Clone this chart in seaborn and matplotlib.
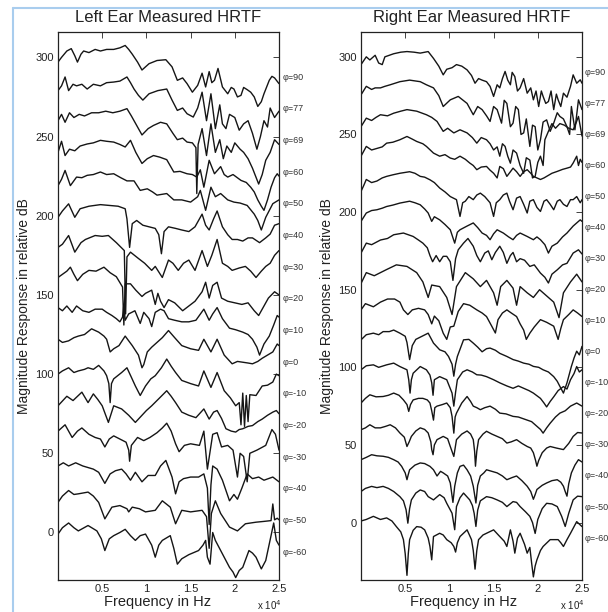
import numpy as np
import pandas as pd
import matplotlib
matplotlib.use("Agg")
import matplotlib.pyplot as plt
from matplotlib.lines import Line2D
import seaborn as sns

# ── Dados: elevações, deslocamentos e curvas (kHz, dB relativo) ──────────────
elevations = [90, 77, 69, 60, 50, 40, 30, 20, 10, 0, -10, -20, -30, -40, -50, -60]
offsets = [300, 280, 260, 240, 220, 200, 180, 160, 140, 120, 100, 80, 60, 40, 20, 0]

# Orelha esquerda
left_90 = [(0.0,-3),(0.4,0),(1.0,4),(1.5,5.5),(1.9,1),(2.2,-3),(2.6,2),(2.9,4),(3.5,3),(4.2,5),(4.8,4),(5.5,5),(6.3,5),(7.0,6),(7.6,7.5),(8.0,5),(8.4,2),(9.0,-3),(9.5,-8),(10.3,-4),(11.2,-2),(12.2,-1.5),(12.9,-6),(13.5,-14.5),(14.1,-13),(14.6,-16.6),(15.2,-22),(15.8,-17.7),(16.3,-10),(16.7,-18.7),(17.1,-9),(17.4,-16),(17.7,-14.5),(18.1,-7),(18.6,-18.7),(19.2,-23),(19.6,-19),(19.9,-20),(20.3,-25),(20.7,-24),(21.0,-19),(21.4,-20.4),(21.8,-22),(22.2,-25),(22.6,-31),(23.0,-28),(23.3,-23),(23.9,-14.5),(24.2,-12),(24.5,-13),(25.0,-16.6)]
left_77 = [(0.0,-1),(0.4,2),(0.8,7.6),(1.2,-1),(1.7,3),(2.1,2),(2.7,3),(3.3,0),(4.0,3),(4.8,2),(5.5,4),(6.3,4.4),(7.0,5),(7.8,7.6),(8.2,4),(8.6,0),(9.1,-4),(9.6,-7),(10.3,-3),(11.3,-1),(12.3,0),(12.9,-7),(13.5,-13.5),(14.1,-12),(14.6,-15.6),(15.3,-17.7),(15.8,-12),(16.3,-2),(16.8,-20),(17.3,-3),(17.8,-25),(18.3,-10),(18.6,-22),(19.0,-25),(19.4,-16),(20.0,-18),(20.5,-26),(21.0,-22),(21.5,-20),(22.0,-28),(22.5,-38),(22.9,-30),(23.3,-20),(23.7,-24),(24.0,-12),(24.5,-18),(25.0,-14)]
left_69 = [(0.0,0),(0.4,4),(0.8,-1),(1.3,5),(1.8,2),(2.4,4),(3.0,3),(3.8,5),(4.6,5),(5.4,6),(6.2,5),(7.0,6),(7.8,7.6),(8.3,3),(8.8,-2),(9.5,-9),(10.2,-5),(10.8,-3),(11.6,-1),(12.3,-2),(13.0,-8),(13.5,-12),(14.1,-11),(14.6,-13.5),(15.2,-14),(15.6,-17),(15.7,-46),(15.85,-15),(16.3,-5),(16.8,-22),(17.3,-2),(17.8,-20),(18.3,-12),(18.7,-24),(19.1,-16),(19.6,-20),(20.0,-14),(20.6,-18),(21.0,-20),(21.5,-24),(22.0,-30),(22.7,-40),(23.1,-34),(23.5,-25),(24.0,-20),(24.5,-12),(25.0,-15)]
left_60 = [(0.0,0),(0.4,7),(0.8,-2),(1.3,2),(1.9,1),(2.5,4),(3.3,5.3),(4.0,6),(4.8,7.6),(5.5,7),(6.3,6.5),(7.0,5),(7.6,3.4),(8.2,7.6),(8.8,0),(9.5,-7),(10.1,-4),(10.8,-2),(11.5,-3),(12.3,-4.6),(13.1,-12.4),(13.8,-12),(14.6,-13.5),(15.2,-14),(15.7,-15.6),(16.1,-11),(16.5,-22),(17.1,-5),(17.7,-13.5),(18.4,-9),(18.8,-14),(19.2,-15.6),(19.8,-14),(20.7,-17.7),(21.3,-19),(21.8,-22),(22.2,-25),(22.6,-30),(23.0,-34),(23.3,-36.6),(23.7,-30),(24.1,-22),(24.5,-16),(24.8,-13.5),(25.0,-15)]
left_50 = [(0.0,-1),(0.4,3),(0.8,8.6),(1.4,-1),(2.1,4.4),(2.7,4),(3.3,5.5),(4.0,6),(4.8,7.6),(5.5,6),(6.3,6.5),(7.1,4),(7.8,2),(8.6,2),(9.3,-4),(10.1,-3),(10.7,-5),(11.2,-7),(12.3,-6),(13.1,-10),(14.0,-10),(15.0,-11.4),(15.8,-8),(16.1,-4),(16.7,-16.6),(17.3,-2),(17.8,-8),(18.4,-6),(19.2,-10),(19.9,-11.4),(20.6,-12),(21.4,-13.5),(22.2,-19),(22.6,-23),(23.0,-29),(23.5,-21),(24.3,-12.4),(25.0,-10)]
left_40 = [(0.0,-1),(0.5,3),(1.2,7.5),(1.9,-1),(2.5,4.4),(3.5,6),(4.8,7),(5.8,6.5),(6.8,6),(7.6,4.4),(7.8,-2),(8.1,-20),(8.4,-5),(8.9,-3),(9.6,-6),(10.3,-7),(11.0,-8),(11.4,-12),(11.7,-24),(12.0,-10),(12.5,-7),(13.3,-8),(14.0,-9),(14.8,-10),(15.5,-7),(16.3,1),(16.7,-6),(17.1,-9),(17.6,-2),(18.0,3),(18.6,-7),(19.2,-12),(19.7,-15),(20.3,-15),(20.9,-16),(21.5,-14),(22.0,-14),(22.8,-17),(23.5,-14),(24.0,-11.6),(24.5,-6),(25.0,-5)]
left_30 = [(0.0,0),(0.5,2),(1.2,7.5),(1.9,-3),(2.6,3),(3.1,5),(4.2,7.5),(5.0,7),(5.7,7.5),(6.6,3),(7.5,-2),(7.65,-42),(7.8,-6),(8.2,-3),(9.1,-7),(9.8,-10),(10.6,-14.5),(11.0,-12),(11.8,-19),(12.5,-8),(13.0,-10),(13.6,-14.5),(14.2,-10),(14.8,-8),(15.5,-14.5),(16.3,-2),(16.9,-12),(17.4,-5),(18.0,5),(18.6,-10),(19.2,-12),(19.7,-14.5),(20.5,-13),(21.2,-12),(21.8,-15),(22.4,-19),(23.0,-15),(23.5,-12),(24.0,-10),(24.5,-5),(25.0,-2)]
left_20 = [(0.0,1),(0.5,3),(1.0,5),(1.4,7.5),(1.8,3),(2.2,-1),(2.8,3),(3.5,5.5),(4.3,5),(5.2,7.5),(5.9,4),(6.6,1.5),(7.3,-5),(7.45,-29),(7.6,-3),(8.2,-3),(8.8,-7),(9.5,-11),(9.9,-9),(10.6,-7),(11.0,-16),(11.3,-9),(11.6,-14),(12.0,-18),(12.5,-13),(13.2,-15),(14.1,-20),(14.8,-17),(15.5,-14),(16.3,-8),(16.7,-2),(17.1,-12),(17.5,-4),(18.0,-2),(18.5,-12),(19.2,-14),(20.0,-15),(20.8,-16),(21.5,-15),(22.2,-20),(22.7,-23),(23.2,-18),(23.8,-12),(24.5,-8),(25.0,-10)]
left_10 = [(0.0,2),(0.5,0),(1.0,3),(1.6,-1),(2.1,3),(2.8,0),(3.5,-1),(4.2,1),(5.0,1),(5.5,-1),(6.1,-3),(6.6,-5),(7.0,-7),(7.3,-4),(7.45,4),(7.6,-6),(8.0,-2),(8.7,0),(9.3,-8),(9.7,-1),(10.3,-5),(10.6,-10),(11.0,-1),(11.6,1),(12.0,0),(12.5,-5),(13.2,-6),(14.0,-7),(14.8,-7),(15.6,-6),(16.5,1),(17.1,-6),(17.5,-2),(18.0,2),(18.6,-5),(19.4,-11),(20.1,-12),(20.9,-13.5),(21.5,-15),(22.0,-18),(22.5,-23),(22.8,-28),(23.3,-21),(23.9,-16),(24.4,-9),(24.8,-3),(25.0,-4)]
left_0 = [(0.0,2),(0.5,0),(1.2,1),(1.8,3),(2.3,4),(3.0,5),(3.8,8.6),(4.6,6.5),(5.2,4),(5.5,2),(5.9,-6),(6.3,-4),(6.9,-2),(7.6,4),(8.0,1),(8.4,-2),(9.1,-8),(9.5,-16),(9.7,-14),(10.1,-6),(10.6,-3),(11.0,-1),(11.8,3),(12.5,7.5),(13.2,3),(14.0,-2),(15.0,-4),(15.9,-5),(16.5,2),(17.3,-6),(18.0,2),(18.8,-8),(19.7,-13.5),(20.3,-12),(20.9,-12.5),(21.5,-13),(22.0,-13.5),(22.6,-12),(23.1,-10),(23.7,-8),(24.3,-6),(24.8,-1),(25.0,-2)]
left_m10 = [(0.0,0),(0.5,2),(1.2,4),(1.8,1),(2.3,2),(3.0,3),(3.4,4),(4.0,3),(4.6,5.5),(5.2,2),(5.5,-1),(5.75,-6),(5.9,-18),(6.05,-6),(6.3,-3),(7.2,1),(7.8,4),(8.3,-2),(8.75,-7.5),(9.3,-13.5),(9.9,-7.5),(10.5,-3),(11.0,-1),(11.7,4),(12.3,9.5),(12.8,5),(13.3,1),(14.0,-4),(15.0,-6),(15.9,-7.5),(16.5,2),(17.3,-8.4),(18.0,1),(18.8,-10.5),(19.5,-15),(20.1,-20),(20.5,-18),(20.7,-32),(20.9,-12),(21.1,-33),(21.3,-13.5),(21.5,-30),(21.7,-13),(22.4,-13.5),(23.1,-7.5),(23.7,-7),(24.3,-5),(24.7,0),(25.0,-1)]
left_m20 = [(0.0,0),(0.5,3),(1.0,6),(1.7,3.3),(2.7,8.6),(3.4,2),(4.0,7.5),(4.5,4),(5.0,0),(5.7,-10.5),(6.3,0),(7.2,-2),(8.0,-6),(8.75,-10.5),(9.5,-6),(10.0,-3),(10.6,0),(11.5,5),(12.3,9.5),(12.8,6),(13.3,2),(14.0,-4),(14.8,-6),(15.6,-7.5),(16.5,-2),(17.1,-8.4),(17.6,-4),(18.0,-3),(18.5,-8),(19.0,-14.5),(19.6,-16),(20.1,-16.6),(20.5,-15),(20.9,-14.5),(21.5,-13),(22.0,-12.5),(22.6,-10),(23.1,-8.4),(23.7,-6),(24.3,-4),(24.7,-3),(25.0,-5)]
left_m30 = [(0.0,4),(0.4,6),(0.8,8),(1.6,0),(2.2,4),(2.7,6),(3.5,2),(4.2,0),(4.8,-1),(5.3,-6),(5.8,-1),(6.3,1),(7.0,-1),(7.7,-3),(8.0,-8),(8.1,-15),(8.3,-5),(9.0,0),(9.7,-2),(10.4,0),(11.2,3),(11.8,6),(12.3,9),(12.8,4),(13.3,-4),(13.7,-9),(14.3,-5),(15.0,-4),(16.0,-5),(16.5,4),(16.9,-20),(17.5,2),(18.0,3),(18.5,-6),(19.2,-5),(19.8,-8),(20.3,-25),(20.6,-10),(21.0,-12),(21.4,-28),(21.7,-10),(22.5,-8),(23.5,-5),(24.2,5),(24.6,2),(25.0,-8)]
left_m40 = [(0.0,2),(0.6,4),(1.2,2),(2.0,4),(2.8,2),(3.4,1),(4.0,0),(4.6,-2),(5.3,-9),(5.9,-3),(6.5,-1),(7.2,0),(7.7,-3),(8.2,-7),(8.75,-2),(9.5,-8),(10.2,-4),(11.0,-4),(11.6,2),(12.2,5.5),(12.9,-5),(13.3,-15.6),(13.7,-8),(14.2,-6),(15.0,-5),(15.9,-5),(16.5,-3),(16.9,-12),(17.1,-35),(17.3,-10),(17.5,2),(18.0,0),(18.6,-7),(19.4,-20),(19.9,-16),(20.3,-19),(20.8,-12),(21.4,-3),(22.0,-6),(22.7,-5),(23.3,-7),(24.3,-5),(25.0,-8)]
left_m50 = [(0.0,-1),(0.5,3),(1.2,6.5),(1.8,4),(2.3,4.4),(3.4,5.5),(4.0,3),(4.6,-1),(5.3,-11.4),(6.1,-4),(7.0,-3),(7.8,-5),(8.0,-7),(8.4,-4),(9.2,-5),(9.9,-7),(11.0,-6),(11.8,0),(12.7,-4),(13.3,-14.5),(14.0,-6),(15.0,-7),(16.3,-6),(16.8,-10),(17.1,-30),(17.35,-8),(17.8,0),(18.4,-8),(19.4,-16.6),(20.3,-19),(21.2,-14.5),(22.4,-13.5),(23.3,-13),(24.1,-12.5),(24.3,-2),(24.5,-12),(24.8,-11),(25.0,-12)]
left_m60 = [(0.0,-1),(0.5,3),(1.2,6),(1.8,3),(2.3,1),(3.4,4.4),(4.4,1),(4.9,-4),(5.3,-11.4),(5.8,-4),(6.3,-2),(7.0,0),(7.6,2),(8.2,-2),(8.75,-5),(9.3,-2),(9.9,-1),(10.6,-8),(11.0,-15.6),(11.4,-8),(11.8,-5),(12.7,-2),(13.1,-10),(13.5,-20),(14.0,-16.6),(14.8,-14),(15.9,-11.4),(16.4,-8),(16.7,-5),(16.9,-15.6),(17.2,-20),(17.5,0),(17.8,-5),(18.6,-13.5),(19.4,-22),(19.8,-25),(20.1,-28.5),(20.5,-24),(20.9,-22),(21.6,-11.4),(22.0,-13),(22.4,-15.6),(23.0,-23),(23.5,-17.7),(24.1,-2),(24.4,6),(24.7,-5),(25.0,-8)]

# Orelha direita
right_90 = [(0.0,-5),(0.6,0),(1.0,-2),(1.6,1),(2.0,-4),(2.4,-5),(2.7,0),(3.7,2),(4.5,3),(5.2,3.4),(6.0,3),(6.7,2.4),(7.6,3.4),(8.2,-1),(8.8,-6),(9.3,-11.6),(9.7,-8),(10.3,-7),(10.8,-5),(11.4,-6),(12.0,-8.4),(12.5,-12),(12.9,-17),(13.3,-14),(13.7,-15),(14.2,-16),(14.6,-19),(15.0,-25.5),(15.4,-18),(15.7,-20),(16.0,-14),(16.3,-9.4),(16.6,-15),(16.9,-18),(17.1,-10),(17.4,-12.7),(17.7,-22),(18.0,-20),(18.4,-14),(18.8,-23.4),(19.2,-20),(19.5,-27.7),(19.8,-22),(20.1,-32),(20.4,-22),(20.6,-25.5),(20.9,-30),(21.2,-28.8),(21.5,-22),(21.8,-34),(22.1,-24),(22.3,-27.7),(22.6,-32),(22.9,-23.4),(23.3,-26),(23.7,-19),(24.0,-11.6),(24.4,-17),(24.8,-14.8),(25.0,-17)]
right_77 = [(0.0,-4.5),(0.6,1),(1.2,-1),(1.6,0),(2.2,0),(2.7,1),(3.3,2),(4.4,4),(5.5,5),(6.7,4),(7.4,2),(8.2,0),(8.8,-5),(9.3,-12),(10.1,-7.7),(11.0,-5.5),(12.0,-10),(12.7,-17.3),(13.2,-12),(13.7,-14),(14.2,-18),(14.6,-21.6),(15.0,-12),(15.4,-14),(15.9,-22.7),(16.2,-8),(16.5,-10),(16.9,-25),(17.2,-22.7),(17.5,-12),(17.8,-14),(18.1,-30),(18.4,-29),(18.7,-20),(19.1,-37.7),(19.4,-24),(19.7,-25),(20.0,-40),(20.3,-33.4),(20.6,-22),(21.0,-20.6),(21.4,-28),(21.8,-22.7),(22.2,-16),(22.5,-18.4),(22.9,-20),(23.3,-25),(23.6,-30),(23.8,-12),(24.2,-27),(24.6,-7.7),(25.0,-14)]
right_69 = [(0.0,-5),(0.6,0.5),(1.2,-1),(1.7,1),(2.2,2.7),(3.0,2),(3.7,3.7),(4.5,5),(5.2,6),(6.3,5),(7.4,2.7),(8.0,1),(8.6,-1.6),(9.3,-8),(9.8,-6),(10.5,-9),(11.2,-7),(12.0,-9),(12.6,-12),(13.1,-15.6),(13.6,-12),(14.2,-13.4),(14.6,-16),(15.0,-20),(15.4,-18),(15.7,-24),(16.0,-16),(16.3,-17.7),(16.6,-24),(16.9,-28.5),(17.2,-20),(17.6,-22),(18.0,-30),(18.4,-35),(18.7,-25),(19.1,-26.5),(19.4,-38),(19.7,-37),(20.0,-28),(20.3,-24),(20.6,-30),(20.8,-13.4),(21.2,-8),(21.6,-3),(22.0,-6),(22.5,-3),(23.0,-4),(23.5,-6),(24.0,-7),(24.3,-3),(24.6,1.6),(25.0,-11)]
right_60 = [(0.0,-4),(0.6,2.3),(1.2,0),(1.8,1),(2.4,2),(2.9,4.4),(3.6,5),(4.4,6.6),(5.2,8.7),(5.8,7),(6.3,5.5),(7.0,4),(7.4,2.3),(8.2,-2),(8.9,-4),(9.5,-3),(10.1,-5.2),(10.6,-6),(11.2,-4),(11.8,-6),(12.3,-8.4),(12.7,-10),(13.1,-12.7),(13.6,-11),(14.2,-10.6),(14.6,-13),(15.0,-15),(15.4,-18),(15.7,-10.6),(16.1,-12),(16.5,-17),(16.9,-14),(17.2,-11.7),(17.6,-14),(18.0,-17),(18.4,-14),(18.8,-12.7),(19.2,-15),(19.5,-17),(19.9,-18),(20.3,-19),(20.7,-18),(21.0,-17),(21.6,-15),(22.2,-13.8),(22.8,-12.5),(23.3,-11.7),(23.7,-11),(24.0,-8.4),(24.4,-4),(24.6,-10),(24.8,-6),(25.0,-8)]
right_50 = [(0.0,-6.7),(0.3,-3),(0.6,1),(1.2,-1),(1.8,0),(2.4,2),(2.9,3),(3.6,4),(4.4,5),(5.5,6),(6.1,5),(6.7,3),(7.2,2.5),(7.8,0.8),(8.3,-1),(8.9,-4.5),(9.5,-7),(10.1,-10),(10.8,-12),(11.2,-22.8),(11.5,-14),(11.8,-13),(12.2,-10),(12.7,-12),(13.1,-9),(13.5,-7.8),(14.0,-10),(14.6,-14),(15.0,-22.8),(15.3,-14),(15.7,-12),(16.1,-9),(16.5,-7.8),(16.8,-13),(17.2,-18.5),(17.6,-11),(18.0,-10),(18.4,-15),(18.8,-20.6),(19.1,-13),(19.5,-12),(19.9,-17),(20.3,-19.6),(20.7,-13),(21.0,-12),(21.4,-15),(21.8,-18.5),(22.2,-13),(22.5,-12),(22.9,-15),(23.3,-16.4),(23.7,-12),(24.0,-12),(24.4,-10),(24.8,-14),(25.0,-12)]
right_40 = [(0.0,-6),(0.6,-0.6),(1.2,1),(1.8,1.5),(2.4,2.5),(2.9,3.6),(3.6,4.5),(4.4,5.8),(5.5,7),(6.1,6),(6.7,4.7),(7.2,2),(7.6,-0.6),(8.0,-6),(8.3,-3),(8.9,-5),(9.5,-8),(10.1,-11.4),(10.6,-20),(10.9,-13),(11.2,-11.4),(12.0,-9),(12.7,-7),(13.2,-10),(13.7,-13.5),(14.2,-15),(14.6,-17.8),(15.0,-14),(15.4,-11.4),(16.1,-13.5),(16.7,-16),(17.2,-17.8),(17.6,-15),(18.0,-13.5),(18.8,-15.7),(19.5,-17.8),(19.9,-16),(20.3,-17.8),(20.8,-21),(21.2,-26.4),(21.6,-22),(22.2,-20),(22.8,-16),(23.3,-13.5),(24.0,-9),(24.4,-7),(24.8,-5),(25.0,-6)]
right_30 = [(0.0,-6.4),(0.6,0),(1.2,-1),(2.2,2),(3.0,3),(3.7,5.4),(4.8,6.5),(5.9,4.3),(6.5,2),(7.0,0),(7.5,-3),(7.8,-8),(8.1,-12),(8.5,-8),(8.9,-12),(9.3,-8.5),(9.7,-8.5),(10.1,-12),(10.4,-24),(10.7,-10),(11.0,-4.3),(11.6,0),(12.1,3),(12.7,-2),(13.1,-8),(13.5,-12),(14.0,-6.4),(14.4,-5),(14.8,-10.7),(15.2,-6),(15.7,-2),(16.1,-6),(16.5,-13),(16.9,-8),(17.2,-6),(17.6,-12),(18.0,-10),(18.5,-11),(19.1,-15),(19.6,-14),(20.3,-19.3),(20.8,-22),(21.2,-25.7),(21.6,-20),(22.2,-17.2),(22.8,-14),(23.3,-13),(24.0,-6.4),(24.6,-4.3),(25.0,-7)]
right_20 = [(0.0,-6),(0.6,1),(1.5,-1),(2.9,3),(4.0,6),(5.2,5),(6.3,1),(7.0,-5),(7.6,-15),(8.0,-7),(8.9,-8),(9.7,-15),(10.3,-26),(10.8,-8),(11.8,1),(12.7,-3),(13.5,-8),(14.2,-4),(15.0,-12),(15.4,-20),(15.8,-8),(16.5,-4),(17.2,-9),(17.6,-20),(18.0,-8),(18.8,-12),(19.5,-15),(20.2,-10),(21.0,-14),(21.8,-18),(22.4,-28),(22.9,-12),(23.7,-5),(24.4,0),(25.0,-5)]
right_10 = [(0.0,-3),(0.5,1),(1.4,-1),(2.2,2),(3.0,4),(3.8,4),(4.4,2),(4.8,-3),(5.3,-6),(5.8,-3),(6.5,-2),(7.2,-3),(7.6,-6),(8.0,-12),(8.3,-7),(8.8,-10),(9.3,-18),(9.7,-22),(10.1,-14),(10.5,-13.5),(11.0,-4),(11.6,1),(12.3,0),(13.1,-3),(13.7,-5),(14.2,-7.3),(14.8,-13.6),(15.2,-17.9),(15.5,-9.3),(16.0,-5),(16.5,-3),(17.0,-5),(17.6,-7.3),(18.0,-12),(18.4,-16),(18.7,-22),(19.1,-18),(19.6,-14),(20.3,-9.3),(21.0,-11),(21.8,-13.5),(22.3,-22),(22.6,-15),(22.9,-9.3),(23.5,-6),(24.0,-3),(24.5,-5),(25.0,-7.3)]
right_0 = [(0.0,-2.3),(0.6,1),(1.4,2),(2.0,1),(2.5,3),(3.2,3),(3.7,4),(4.4,2),(5.0,0),(5.2,-4),(5.5,-15),(5.8,-6),(6.2,-2),(6.9,0),(7.6,2),(8.2,-4.4),(8.9,-8.7),(9.5,-10),(9.9,-13),(10.3,-18),(10.5,-25.7),(10.7,-18),(10.9,-13),(11.6,-2.3),(12.2,-2),(12.7,-4.4),(13.2,-7),(13.7,-10),(14.2,-8),(14.6,-7.6),(15.2,-9),(15.7,-11),(16.5,-13),(17.2,-15),(17.8,-16),(18.4,-17.3),(19.0,-18),(19.5,-19.4),(20.1,-20),(20.6,-21.6),(21.2,-23),(21.8,-26),(22.2,-29),(22.5,-32.3),(22.9,-36.6),(23.3,-30),(23.8,-19.4),(24.1,-14),(24.4,-9.6),(24.7,-12),(25.0,-6.5)]
right_m10 = [(0.0,-1.6),(0.6,1),(1.4,1.6),(2.0,0),(2.9,1.6),(3.7,2.7),(4.4,0.5),(5.2,-1.6),(5.4,-8),(5.55,-16.6),(5.7,-8),(5.9,-3.8),(6.7,0.5),(7.4,-1.6),(7.8,-5),(8.0,-10),(8.15,-18),(8.3,-8),(8.9,-6),(9.7,-8),(10.3,-16.6),(10.5,-25),(10.7,-16),(10.9,-8),(11.5,-3),(12.0,-1.6),(12.6,-3),(13.1,-4.8),(13.6,-5),(14.2,-6),(15.0,-8),(15.7,-10),(16.5,-12),(17.2,-13.5),(17.8,-12),(18.4,-13.5),(19.0,-15),(19.5,-16.6),(20.3,-20),(20.7,-23),(21.0,-25.5),(21.4,-22),(21.8,-19),(22.3,-15),(22.9,-12.4),(23.3,-14),(23.7,-8),(24.1,-4),(24.4,0.5),(24.7,-3),(25.0,-1.6)]
right_m20 = [(0.0,-3),(0.5,0),(1.0,2.3),(1.7,1),(2.5,1.2),(3.1,2),(3.7,3.4),(4.3,2),(4.8,-1),(5.2,-4),(5.4,-8.4),(5.6,-4),(5.9,-1),(6.5,0),(7.0,0),(7.5,-1),(7.8,-3),(8.0,-8),(8.2,-14),(8.35,-6),(8.6,-5),(9.2,-4),(9.7,-3),(10.1,-6),(10.3,-11.6),(10.5,-22.4),(10.65,-12),(10.8,-9.5),(11.4,-3),(12.0,1.2),(12.4,-2),(12.7,-5),(13.1,-6),(13.5,-7.3),(14.0,-6),(14.6,-5),(15.2,-7),(15.7,-9.5),(16.4,-10),(17.2,-11.6),(17.8,-12),(18.8,-14),(19.3,-15),(19.9,-18),(20.3,-20),(20.6,-22.4),(21.0,-19),(21.4,-16),(22.0,-12),(22.5,-9.5),(23.1,-8),(23.7,-5),(24.4,-3),(25.0,-5)]
right_m30 = [(0.0,-0.2),(0.5,1),(1.0,3),(1.6,1),(2.2,1),(2.8,2),(3.3,3),(3.9,1),(4.4,-2.3),(4.9,-5),(5.2,-11),(5.45,-8),(5.7,-4.5),(6.2,-1),(6.7,1),(7.2,0),(7.6,-2.3),(7.9,-8),(8.0,-13),(8.15,-16.3),(8.3,-10),(8.6,-6.6),(9.3,-4.5),(9.8,-6),(10.1,-11),(10.5,-17.4),(10.8,-6.6),(11.4,-3),(12.0,-1),(12.4,-3),(12.7,-6.6),(12.85,-14),(12.95,-23.7),(13.1,-14),(13.3,-6.6),(13.8,-3),(14.2,-1.2),(14.8,-3),(15.4,-4.5),(16.0,-6),(16.5,-8.8),(17.0,-8),(17.6,-6.6),(18.2,-9),(18.8,-11),(19.2,-12),(19.5,-15),(19.75,-20),(19.9,-23.7),(20.1,-20),(20.5,-15),(21.0,-12),(21.4,-11),(22.1,-12),(22.9,-13),(23.5,-9),(24.0,-4.5),(24.5,-2),(25.0,-2.3)]
right_m40 = [(0.0,0.5),(0.6,2),(1.2,3.7),(1.8,3),(2.5,2.7),(3.1,2),(3.7,0.5),(4.2,-1),(4.6,-3.8),(5.0,-8),(5.2,-12.4),(5.35,-9),(5.5,-6),(6.1,-3),(6.7,-1.6),(7.2,-2),(7.8,-3.8),(8.2,-6),(8.6,-10),(9.0,-7),(9.3,-8),(9.8,-10),(10.1,-14.5),(10.4,-27),(10.6,-16.6),(10.9,-8),(11.2,-3.8),(11.6,-3),(12.0,-6),(12.4,-10),(12.7,-16.6),(13.0,-27.4),(13.2,-16),(13.5,-10),(13.9,-8),(14.2,-6),(14.8,-7),(15.4,-8),(16.0,-10),(16.5,-12.4),(17.1,-11),(17.6,-10),(18.2,-13),(18.8,-16.6),(19.2,-20),(19.5,-25),(19.7,-22),(19.9,-18.7),(20.5,-16),(21.0,-14.5),(21.6,-13),(22.2,-12.4),(22.6,-14),(22.9,-16.6),(23.1,-20),(23.3,-23),(23.5,-15),(23.8,-8),(24.2,-3),(24.6,0.5),(25.0,-1)]
right_m50 = [(0.0,0),(0.5,2),(1.2,3.3),(1.8,2.5),(2.5,3.3),(3.1,2),(3.7,0),(4.4,-3.3),(4.8,-6),(5.1,-11.8),(5.3,-20.4),(5.5,-11),(5.7,-5.4),(6.2,-1),(6.7,1),(7.2,0),(7.6,-3.3),(8.2,-5.4),(8.9,-2),(9.4,-4),(9.7,-7.6),(10.3,-14),(10.6,-24.6),(10.8,-9.7),(11.2,-4),(11.6,-1),(12.3,-5.4),(12.6,-9),(12.8,-14),(13.0,-22.5),(13.2,-12),(13.5,-6),(14.2,-3.3),(14.8,-4),(15.4,-5.4),(16.0,-7),(16.5,-9.7),(17.2,-6.5),(17.6,-7),(18.0,-9.7),(18.6,-13),(19.1,-16),(19.4,-20),(19.7,-27),(20.0,-18),(20.5,-11),(21.0,-7.6),(21.6,-8),(22.2,-9.7),(22.7,-16),(23.1,-22.5),(23.5,-14),(24.0,-5.4),(24.5,-3),(25.0,-3.3)]
right_m60 = [(0.0,1),(0.6,2),(1.4,4),(2.2,2),(2.9,3),(3.5,1),(4.0,-2.6),(4.5,-6),(4.8,-11),(5.0,-20),(5.2,-34),(5.35,-20),(5.5,-11),(5.9,-5),(6.3,-2.6),(6.8,-3),(7.2,-4.7),(7.6,-10),(7.8,-15.4),(8.0,-24),(8.2,-9),(8.9,-6.9),(9.3,-8),(9.7,-11),(10.2,-13),(10.5,-15.4),(10.7,-19),(10.9,-13),(11.2,-9),(12.0,-4.7),(12.5,-11),(12.7,-18),(12.9,-30),(13.1,-18),(13.3,-11),(13.8,-8),(14.2,-6.9),(15.0,-4.7),(15.7,-9),(16.2,-12),(16.5,-15.4),(16.9,-4.7),(17.2,-12),(17.4,-19.7),(17.7,-10),(18.0,-6.9),(18.5,-14),(18.8,-19.7),(19.1,-16),(19.3,-26),(19.5,-35),(19.7,-28),(19.9,-24),(20.3,-18),(20.6,-15.4),(21.4,-11),(22.3,-11),(22.6,-13),(22.9,-15.4),(23.3,-11),(23.7,-6.9),(24.4,0.6),(25.0,-2.6)]

left_curves = [left_90, left_77, left_69, left_60, left_50, left_40, left_30, left_20,
               left_10, left_0, left_m10, left_m20, left_m30, left_m40, left_m50, left_m60]
right_curves = [right_90, right_77, right_69, right_60, right_50, right_40, right_30, right_20,
                right_10, right_0, right_m10, right_m20, right_m30, right_m40, right_m50, right_m60]

xtick_vals = [5000, 10000, 15000, 20000, 25000]
xtick_labels = ["0.5", "1", "1.5", "2", "2.5"]
ytick_vals = [0, 50, 100, 150, 200, 250, 300]


def to_long(curves):
    rows = []
    for elev, off, pts in zip(elevations, offsets, curves):
        for f_khz, rel in pts:
            rows.append({"elev": elev, "freq": f_khz * 1000.0, "db": off + rel})
    return pd.DataFrame(rows)


df_left = to_long(left_curves)
df_right = to_long(right_curves)

# ── Figura ───────────────────────────────────────────────────────────────────
sns.set_style("white")
plt.rcParams["font.family"] = ["Liberation Sans", "DejaVu Sans"]

W, H = 608, 612
fig = plt.figure(figsize=(W / 100, H / 100), dpi=100)
ax_l = fig.add_axes([58 / W, 1 - 580 / H, 221 / W, 548 / H])
ax_r = fig.add_axes([361 / W, 1 - 580 / H, 221 / W, 548 / H])

panels = [
    (ax_l, df_left, "Left Ear Measured HRTF", (-30, 316), 12.5, 1.018, 0.45),
    (ax_r, df_right, "Right Ear Measured HRTF", (-37, 316), 10.0, 1.013, 0.466),
]

for ax, df, title, ylim, lab_shift, lab_x, xlab_x in panels:
    sns.lineplot(data=df, x="freq", y="db", units="elev", estimator=None,
                 color="#151515", linewidth=1.0, legend=False, ax=ax)
    ax.set_xlim(0, 25000)
    ax.set_ylim(*ylim)
    ax.set_xticks(xtick_vals)
    ax.set_xticklabels(xtick_labels)
    ax.set_yticks(ytick_vals)
    ax.tick_params(direction="in", top=True, right=True, length=4, width=0.6,
                   labelsize=8, pad=3, colors="#222222")
    for sp in ax.spines.values():
        sp.set_linewidth(0.9)
        sp.set_color("#222222")
    ax.set_title(title, fontsize=12, pad=7, color="#222222")
    ax.set_xlabel("Frequency in Hz", fontsize=10.5, color="#222222")
    ax.xaxis.set_label_coords(xlab_x, -0.028)
    ax.set_ylabel("Magnitude Response in relative dB", fontsize=10, color="#222222",
                  labelpad=3)
    for elev, off in zip(elevations, offsets):
        ax.text(lab_x, off - lab_shift, f"φ={elev}", transform=ax.get_yaxis_transform(),
                fontsize=6.5, va="center", ha="left", color="#333333", clip_on=False)
    fig.text((ax.get_position().x1 * W - 22) / W, 1 - 605 / H, r"x 10$^4$",
             fontsize=7, ha="left", va="center", color="#222222")

# moldura azul da captura de tela
fig.add_artist(Line2D([13 / W, 13 / W], [0, 1 - 8 / H], color="#a9cdee", lw=1.5,
                      transform=fig.transFigure))
fig.add_artist(Line2D([13 / W, 1], [1 - 8 / H, 1 - 8 / H], color="#a9cdee", lw=1.5,
                      transform=fig.transFigure))

fig.savefig("out.png", dpi=100)
